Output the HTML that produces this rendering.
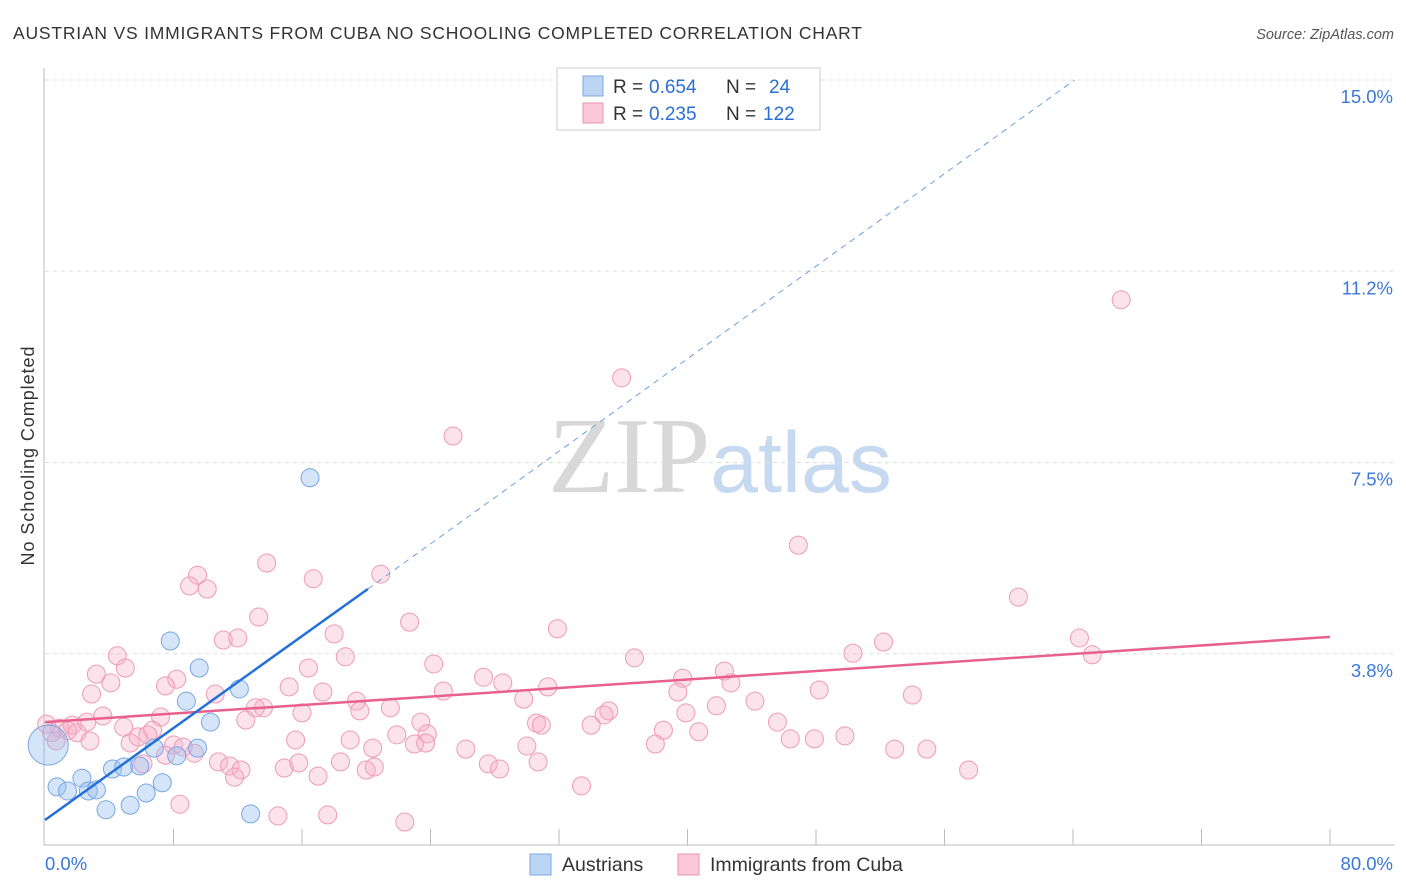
<!DOCTYPE html>
<html><head><meta charset="utf-8"><style>
body{margin:0;background:#fff;font-family:"Liberation Sans",sans-serif}
svg{display:block}
</style></head><body>
<svg id="chart" width="1406" height="892" xmlns="http://www.w3.org/2000/svg">
<text x="13" y="39" font-size="17.5" fill="#333" textLength="849" lengthAdjust="spacing">AUSTRIAN VS IMMIGRANTS FROM CUBA NO SCHOOLING COMPLETED CORRELATION CHART</text>
<text x="1394" y="39" font-size="14.5" fill="#555" text-anchor="end" font-style="italic">Source: ZipAtlas.com</text>
<text x="720" y="492" font-size="108" text-anchor="middle"><tspan fill="#d8d8d8" font-family="Liberation Serif,serif">ZIP</tspan><tspan fill="#c5d9f0" font-size="86">atlas</tspan></text>
<g id="grid"></g><g id="marks"></g>
<text transform="translate(34,456) rotate(-90)" font-size="18" fill="#333" text-anchor="middle" textLength="219" lengthAdjust="spacing">No Schooling Completed</text>
<g>
<rect x="557" y="68" width="263" height="62" fill="#fff" stroke="#ccc"/>
<rect x="583" y="76" width="20" height="20" fill="#bcd5f5" stroke="#7aa8e0"/>
<rect x="583" y="103" width="20" height="20" fill="#fac8d8" stroke="#ec93b0"/>
<text y="93" font-size="19" fill="#333"><tspan x="613">R =</tspan><tspan x="649" fill="#2a6fd6">0.654</tspan><tspan x="726">N =</tspan><tspan x="769" fill="#2a6fd6">24</tspan></text>
<text y="120" font-size="19" fill="#333"><tspan x="613">R =</tspan><tspan x="649" fill="#2a6fd6">0.235</tspan><tspan x="726">N =</tspan><tspan x="763" fill="#2a6fd6">122</tspan></text>
</g>
<g>
<rect x="530" y="854" width="21" height="21" fill="#bcd5f5" stroke="#7aa8e0"/>
<text x="562" y="871" font-size="19.5" fill="#333">Austrians</text>
<rect x="678" y="854" width="21" height="21" fill="#fac8d8" stroke="#ec93b0"/>
<text x="710" y="871" font-size="19.5" fill="#333">Immigrants from Cuba</text>
</g>
</svg>
<script>
const yTicks=[3.8,7.5,11.2,15.0];
const yTickVals=[3.75,7.5,11.25,15];
const xEnds=["0.0%","80.0%"];
const blueX=[16.5,7.8,9.6,12.1,8.8,10.3,6.8,9.5,8.2,4.2,4.9,5.9,2.3,0.75,1.4,2.7,3.2,6.3,7.3,3.8,5.3,12.8,0.2];
const blueY=[7.2,4.0,3.47,3.06,2.82,2.41,1.90,1.90,1.75,1.49,1.53,1.55,1.31,1.14,1.06,1.06,1.08,1.02,1.22,0.69,0.78,0.61,1.96];
const blueR=[9,9,9,9,9,9,9,9,9,9,9,9,9,9,9,9,9,9,9,9,9,9,20];
const pinkX=[67.0,35.9,25.4,46.9,60.6,13.8,20.9,16.7,9.5,9.0,10.1,13.3,22.7,31.9,64.4,52.2,50.3,65.2,18.0,11.1,12.0,4.5,5.0,3.2,18.7,16.4,24.2,36.7,42.3,39.7,42.7,8.2,7.5,4.1,2.9,10.6,15.2,17.3,24.8,27.3,28.5,31.3,39.4,48.2,54.0,44.2,29.8,19.4,19.6,13.6,13.1,21.5,16.0,41.8,39.9,35.1,34.8,7.2,3.6,4.9,6.7,0.1,0.9,1.7,2.6,0.4,1.4,2.0,12.5,23.4,30.6,30.9,34.0,45.6,38.5,40.7,23.8,21.9,5.3,5.8,8.0,8.6,9.3,15.6,19.0,23.0,23.7,26.2,30.0,38.0,46.4,47.9,49.8,52.9,54.9,20.4,6.1,10.8,11.5,12.2,14.9,15.8,17.0,18.4,20.0,20.5,27.6,28.3,30.7,57.5,11.8,8.4,14.5,17.6,22.4,33.4,6.4,0.7,7.5,2.8];
const pinkY=[10.69,9.16,8.02,5.88,4.86,5.53,5.31,5.22,5.29,5.08,5.02,4.47,4.37,4.24,4.06,3.98,3.76,3.73,4.14,4.02,4.06,3.71,3.47,3.35,3.69,3.47,3.55,3.67,3.41,3.27,3.18,3.25,3.12,3.18,2.96,2.96,3.10,3.00,3.02,3.29,3.18,3.10,3.00,3.04,2.94,2.82,2.86,2.82,2.63,2.69,2.69,2.69,2.59,2.73,2.59,2.63,2.55,2.51,2.53,2.31,2.25,2.37,2.29,2.35,2.41,2.20,2.24,2.20,2.45,2.41,2.39,2.35,2.35,2.41,2.25,2.22,2.18,2.16,2.00,2.12,1.96,1.92,1.80,2.06,2.06,1.98,2.00,1.88,1.94,1.98,2.08,2.08,2.14,1.88,1.88,1.90,1.59,1.63,1.55,1.47,1.51,1.61,1.35,1.63,1.47,1.53,1.59,1.49,1.63,1.47,1.33,0.80,0.57,0.59,0.45,1.16,2.16,2.04,1.76,2.04];
const blueTrendX=[0,20.1,64.1];
const blueTrendY=[0.49,5.02,15];
const pinkTrendX=[0,80];
const pinkTrendY=[2.41,4.08];
const NS="http://www.w3.org/2000/svg";
const X0=45,X1=1330,Y0=845,Y1=80;
function sx(v){return X0+(X1-X0)*v/80;}
function sy(v){return Y0-(Y0-Y1)*v/15;}
function mk(tag,attrs,parent){const e=document.createElementNS(NS,tag);for(const k in attrs)e.setAttribute(k,attrs[k]);parent.appendChild(e);return e;}
const grid=document.getElementById('grid'),marks=document.getElementById('marks');
yTicks.forEach((t,i)=>{
  const y=sy(yTickVals[i]);
  const l=mk('line',{x1:45,x2:1395,y1:y,y2:y,stroke:'#ddd','stroke-dasharray':'4,4'},grid);
  
  
  const tx=mk('text',{x:1393,y:y+23,'font-size':18.5,fill:'#3a78d8','text-anchor':'end'},grid);
  tx.textContent=t.toFixed(1)+'%';
  
  
});
const ax=mk('line',{x1:44,x2:44,y1:68,y2:845,stroke:'#bbb'},grid);


const bx=mk('line',{x1:44,x2:1395,y1:845,y2:845,stroke:'#bbb'},grid);


for(let i=1;i<=10;i++){const x=sx(i*8);
  const t=mk('line',{x1:x,x2:x,y1:829,y2:845,stroke:'#bbb'},grid);
  
  }
const xl=mk('text',{x:45,y:870,'font-size':18.5,fill:'#3a78d8'},grid);xl.textContent=xEnds[0];


const xr=mk('text',{x:1393,y:870,'font-size':18.5,fill:'#3a78d8','text-anchor':'end'},grid);xr.textContent=xEnds[1];


pinkX.forEach((v,i)=>{
  const c=mk('circle',{cx:sx(v),cy:sy(pinkY[i]),r:9,fill:'rgba(246,172,198,0.35)',stroke:'#ee9ab7','stroke-width':1},marks);
  
  
});
blueX.forEach((v,i)=>{
  const c=mk('circle',{cx:sx(v),cy:sy(blueY[i]),r:blueR[i],fill:'rgba(150,190,240,0.4)',stroke:'#78a6e2','stroke-width':1},marks);
  
  
});
const pl=mk('line',{x1:sx(pinkTrendX[0]),y1:sy(pinkTrendY[0]),x2:sx(pinkTrendX[1]),y2:sy(pinkTrendY[1]),stroke:'#e8608e','stroke-width':2.5},marks);


const bl=mk('line',{x1:sx(blueTrendX[0]),y1:sy(blueTrendY[0]),x2:sx(blueTrendX[1]),y2:sy(blueTrendY[1]),stroke:'#2270d8','stroke-width':2.5},marks);


const bd=mk('line',{x1:sx(blueTrendX[1]),y1:sy(blueTrendY[1]),x2:sx(blueTrendX[2]),y2:sy(blueTrendY[2]),stroke:'#6e9fe0','stroke-width':1,'stroke-dasharray':'6,5'},marks);


</script>
</body></html>
